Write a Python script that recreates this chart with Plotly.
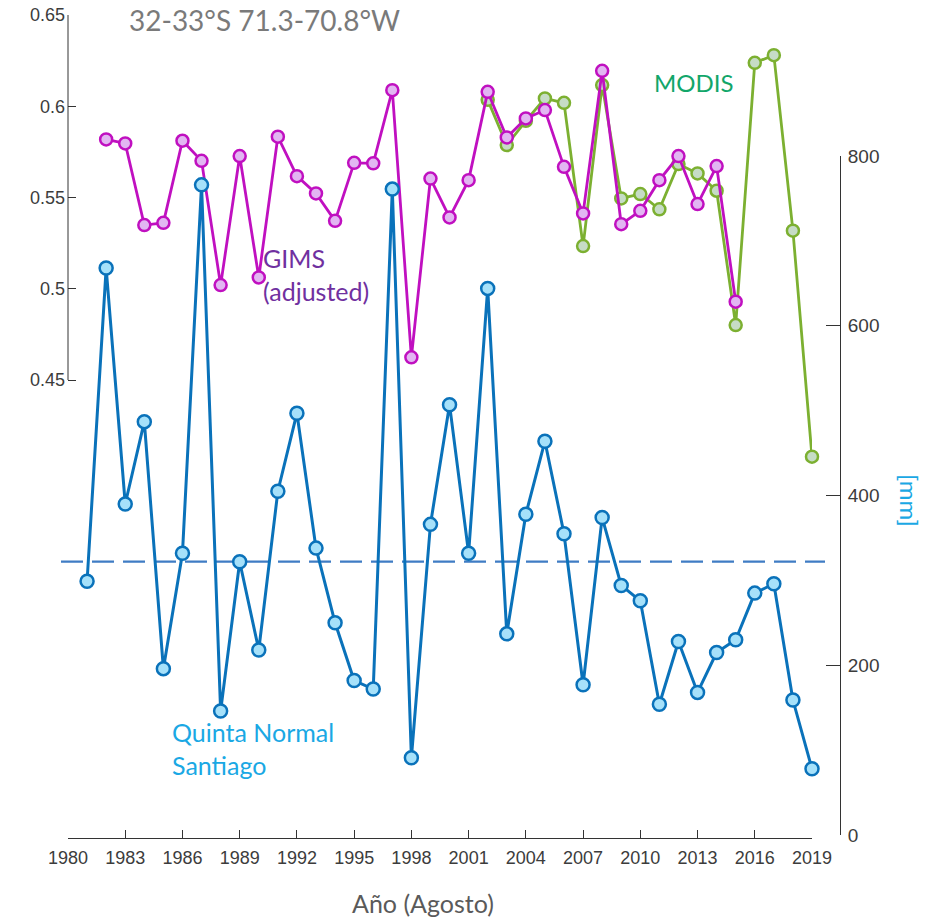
import plotly.graph_objects as go

# Winter precipitation at Quinta Normal (Santiago), August totals in mm
rain_years = list(range(1981, 2020))
rain_mm = [299, 668, 390, 487, 196, 332, 766, 146, 322, 218,
           405, 497, 338, 250, 182, 172, 761, 91, 366, 507,
           332, 644, 237, 378, 464, 355, 177, 374, 294, 276,
           154, 228, 168, 215, 230, 285, 296, 159, 78]
rain_mean = 322

# GIMS (adjusted) index, 1982-2015
gims_years = list(range(1982, 2016))
gims_vals = [0.5818, 0.5796, 0.5349, 0.5361, 0.5811, 0.5701, 0.5020, 0.5727,
             0.5062, 0.5833, 0.5617, 0.5522, 0.5372, 0.5690, 0.5687, 0.6088,
             0.4624, 0.5604, 0.5391, 0.5595, 0.6079, 0.5829, 0.5933, 0.5979,
             0.5668, 0.5413, 0.6194, 0.5354, 0.5427, 0.5595, 0.5727, 0.5464,
             0.5672, 0.4929]

# MODIS index, 2002-2019
modis_years = list(range(2002, 2020))
modis_vals = [0.6035, 0.5787, 0.5920, 0.6043, 0.6019, 0.5234, 0.6116, 0.5495,
              0.5519, 0.5435, 0.5683, 0.5632, 0.5537, 0.4801, 0.6238, 0.6280,
              0.5318, 0.4080]

left_ticks = [0.45, 0.5, 0.55, 0.6, 0.65]
left_ticktext = ["0.45", "0.5", "0.55", "0.6", "0.65"]
right_ticks = [0, 200, 400, 600, 800]
x_ticks = list(range(1980, 2020, 3))

W, H = 935, 921
ML, MR, MT, MB = 68, 95, 15, 83
PW, PH = W - ML - MR, H - MT - MB

AX = "#333333"
TICKFAMILY = "Liberation Sans, Arial, sans-serif"
TICKCOLOR = "#3c3c3c"
TXTFONT = "Lato, Open Sans, sans-serif"

fig = go.Figure()

fig.add_trace(go.Scatter(
    x=rain_years, y=rain_mm, xaxis="x", yaxis="y2", mode="lines+markers",
    line=dict(color="#0a72ba", width=3), cliponaxis=False,
    marker=dict(size=13, color="#a6e1fa", line=dict(color="#0a72ba", width=2.5)),
    showlegend=False, hoverinfo="x+y"))

fig.add_trace(go.Scatter(
    x=modis_years, y=modis_vals, xaxis="x", yaxis="y", mode="lines+markers",
    line=dict(color="#7cb031", width=2.8), cliponaxis=False,
    marker=dict(size=12, color="#c6dcc6", line=dict(color="#7cb031", width=2.5)),
    showlegend=False, hoverinfo="x+y"))

fig.add_trace(go.Scatter(
    x=gims_years, y=gims_vals, xaxis="x", yaxis="y", mode="lines+markers",
    line=dict(color="#c010c0", width=2.8), cliponaxis=False,
    marker=dict(size=12, color="#e2b6f2", line=dict(color="#c010c0", width=2.5)),
    showlegend=False, hoverinfo="x+y"))

x_end = (812 - ML) / PW
y_bottom = 0.45 - (838 - 380) / 1825.0

fig.update_layout(
    template="none",
    width=W, height=H,
    margin=dict(l=ML, r=MR, t=MT, b=MB, autoexpand=False),
    paper_bgcolor="white", plot_bgcolor="rgba(0,0,0,0)",
    xaxis=dict(
        domain=[0, x_end], range=[1980, 2019], anchor="y", automargin=False,
        tickvals=x_ticks, ticks="inside", ticklen=8, tickcolor=AX,
        showline=True, linecolor=AX, linewidth=1, showgrid=False, zeroline=False,
        tickfont=dict(family=TICKFAMILY, size=18, color=TICKCOLOR),
        ticklabelstandoff=3,
    ),
    yaxis=dict(
        range=[y_bottom, 0.65], anchor="x", automargin=False,
        tickvals=left_ticks, ticktext=left_ticktext,
        ticks="inside", ticklen=8, tickcolor=AX,
        showline=False, showgrid=False, zeroline=False,
        tickfont=dict(family=TICKFAMILY, size=18, color=TICKCOLOR),
        ticklabelstandoff=2,
    ),
    yaxis2=dict(
        domain=[(838 - 835) / PH, (838 - 156) / PH], range=[0, 800],
        anchor="free", position=1, side="right", automargin=False,
        tickvals=right_ticks, ticks="inside", ticklen=14, tickcolor=AX,
        showline=True, linecolor=AX, linewidth=1, showgrid=False, zeroline=False,
        tickfont=dict(family=TICKFAMILY, size=19, color=TICKCOLOR),
        ticklabelstandoff=3,
    ),
)

# left axis spine covers only the 0.45-0.65 span
fig.add_shape(type="line", xref="paper", yref="y", x0=0, x1=0, y0=0.45, y1=0.65,
              line=dict(color=AX, width=1))

# long-term mean of precipitation
fig.add_shape(type="line", xref="paper", yref="y2",
              x0=(61 - ML) / PW, x1=(825 - ML) / PW, y0=rain_mean, y1=rain_mean,
              line=dict(color="#3f7cc4", width=2.2, dash="22px,9px"), layer="below")

def px_x(px):
    return (px - ML) / PW

def px_y(py):
    return (H - MB - py) / PH

annotations = [
    dict(text="32-33°S 71.3-70.8°W", x=px_x(264), y=px_y(20),
         font=dict(family=TXTFONT, size=28, color="#7a7a7a")),
    dict(text="GIMS<br>(adjusted)", x=px_x(262), y=px_y(274), xanchor="left",
         align="left", font=dict(family=TXTFONT, size=25, color="#7030a0")),
    dict(text="MODIS", x=px_x(694), y=px_y(82),
         font=dict(family=TXTFONT, size=24, color="#12a66a")),
    dict(text="Quinta Normal<br>Santiago", x=px_x(171), y=px_y(748), xanchor="left",
         align="left", font=dict(family=TXTFONT, size=25, color="#1aa8e4")),
    dict(text="Año (Agosto)", x=px_x(423), y=px_y(903),
         font=dict(family=TXTFONT, size=25, color="#5a5a5a")),
    dict(text="[mm]", x=px_x(910), y=px_y(500), textangle=90,
         font=dict(family=TXTFONT, size=24, color="#1aa8e4")),
]
for a in annotations:
    a.setdefault("xanchor", "center")
    fig.add_annotation(xref="paper", yref="paper", showarrow=False, yanchor="middle",
                       borderpad=0, **a)

fig.write_html("out.html")
